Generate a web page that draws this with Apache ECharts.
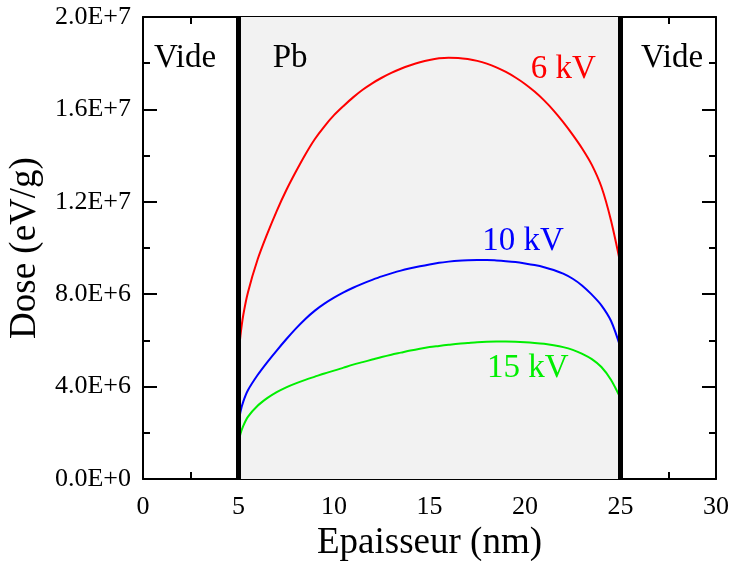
<!DOCTYPE html>
<html>
<head>
<meta charset="utf-8">
<script src="https://cdn.jsdelivr.net/npm/echarts@6/dist/echarts.min.js"></script>
<style>
html,body{margin:0;padding:0;background:#fff;}
#chart{width:734px;height:561px;}
</style>
</head>
<body>
<div id="chart"></div>
<script>
// Data (thickness in nm, dose in eV/g)
const thickness = [5.0,5.1,5.25,5.5,6.0,6.5,7.0,7.5,8.0,8.5,9.0,9.5,10.0,10.5,11.0,11.5,12.0,12.5,13.0,13.5,14.0,14.5,15.0,15.5,16.0,16.5,17.0,17.5,18.0,18.5,19.0,19.5,20.0,20.5,21.0,21.5,22.0,22.5,23.0,23.5,24.0,24.5,25.0];

const dose6kV = [5.3e6,6.2e6,7.1e6,8.1e6,9.5e6,10.6e6,11.6e6,12.5e6,13.3e6,14.05e6,14.72e6,15.27e6,15.75e6,16.15e6,16.52e6,16.85e6,17.13e6,17.37e6,17.58e6,17.76e6,17.91e6,18.04e6,18.14e6,18.21e6,18.24e6,18.23e6,18.18e6,18.1e6,17.98e6,17.82e6,17.62e6,17.38e6,17.1e6,16.77e6,16.39e6,15.95e6,15.45e6,14.9e6,14.3e6,13.6e6,12.65e6,11.2e6,9.3e6];

const dose10kV = [2.3e6,2.9e6,3.35e6,3.85e6,4.5e6,5.05e6,5.56e6,6.05e6,6.51e6,6.93e6,7.29e6,7.59e6,7.85e6,8.08e6,8.28e6,8.46e6,8.62e6,8.77e6,8.9e6,9.02e6,9.12e6,9.21e6,9.29e6,9.36e6,9.41e6,9.45e6,9.47e6,9.48e6,9.48e6,9.46e6,9.43e6,9.39e6,9.33e6,9.26e6,9.17e6,9.05e6,8.89e6,8.67e6,8.37e6,7.98e6,7.52e6,6.85e6,5.7e6];

const dose15kV = [1.45e6,1.95e6,2.3e6,2.7e6,3.17e6,3.5e6,3.76e6,3.97e6,4.14e6,4.29e6,4.43e6,4.57e6,4.69e6,4.82e6,4.95e6,5.06e6,5.17e6,5.28e6,5.38e6,5.47e6,5.56e6,5.64e6,5.71e6,5.76e6,5.81e6,5.86e6,5.89e6,5.92e6,5.94e6,5.95e6,5.95e6,5.94e6,5.92e6,5.89e6,5.85e6,5.79e6,5.71e6,5.59e6,5.42e6,5.19e6,4.85e6,4.3e6,3.5e6];

const pbStart = 5, pbEnd = 25;
const yTickLabels = ['0.0E+0','4.0E+6','8.0E+6','1.2E+7','1.6E+7','2.0E+7'];

const annotTexts = ['Vide','Pb','Vide'];
const annotX = [2.2,7.7,27.7];
const annotY = [1.82e7,1.82e7,1.82e7];
const seriesNames = ['6 kV','10 kV','15 kV'];
const seriesColors = ['#ff0000','#0000ff','#00ee00'];
const labelX = [22.0,19.9,20.15];
const labelY = [1.775e7,1.03e7,4.8e6];

const FONT = '"Liberation Serif","Times New Roman",serif';

function pairs(xs, ys){ return xs.map((x,i)=>[x, ys[i]]); }
function fmtY(v){
  const idx = Math.round(v/4e6);
  return yTickLabels[idx] !== undefined ? yTickLabels[idx] : '';
}

const chart = echarts.init(document.getElementById('chart'), null, {renderer:'canvas'});

const baseAxisX = {
  type:'value', min:0, max:30, interval:5,
  axisLine:{show:true, onZero:false, lineStyle:{color:'#000', width:2}},
  axisTick:{show:true, inside:true, length:14, lineStyle:{color:'#000', width:2}},
  minorTick:{show:true, splitNumber:2, length:7, lineStyle:{color:'#000', width:2}},
  splitLine:{show:false}
};
const baseAxisY = {
  type:'value', min:0, max:2e7, interval:4e6,
  axisLine:{show:true, onZero:false, lineStyle:{color:'#000', width:2}},
  axisTick:{show:true, inside:true, length:14, lineStyle:{color:'#000', width:2}},
  minorTick:{show:true, splitNumber:2, length:7, lineStyle:{color:'#000', width:2}},
  splitLine:{show:false}
};

const curves = [pairs(thickness,dose6kV), pairs(thickness,dose10kV), pairs(thickness,dose15kV)];

const series = curves.map((d,i)=>({
  name: seriesNames[i], type:'line', data:d, showSymbol:false, symbol:'none',
  smooth:0.3, lineStyle:{color:seriesColors[i], width:2}, z:3,
  markPoint:{
    symbol:'circle', symbolSize:0,
    data:[{coord:[labelX[i], labelY[i]], value:seriesNames[i]}],
    label:{show:true, formatter:seriesNames[i], color:seriesColors[i], fontFamily:FONT, fontSize:33, position:'inside'}
  }
}));

series.push({
  type:'line', data:[], silent:true,
  markArea:{
    silent:true,
    itemStyle:{color:'#f2f2f2'},
    data:[[{xAxis:pbStart},{xAxis:pbEnd}]]
  },
  markLine:{
    silent:true, symbol:['none','none'], label:{show:false},
    lineStyle:{color:'#000', width:5, type:'solid'},
    data:[{xAxis:pbStart},{xAxis:pbEnd}]
  },
  markPoint:{
    symbol:'circle', symbolSize:0,
    data: annotTexts.map((t,i)=>({coord:[annotX[i], annotY[i]], value:t, label:{formatter:t}})),
    label:{show:true, color:'#000', fontFamily:FONT, fontSize:33, position:'inside'}
  },
  z:2
});

chart.setOption({
  animation:false,
  backgroundColor:'#fff',
  grid:{left:143, right:18, top:17, bottom:82, containLabel:false, outerBoundsMode:'none'},
  xAxis:[
    Object.assign({}, baseAxisX, {
      position:'bottom',
      name:'Epaisseur (nm)', nameLocation:'middle', nameGap:44,
      nameTextStyle:{fontFamily:FONT, fontSize:37, color:'#000'},
      axisLabel:{show:true, margin:15, fontFamily:FONT, fontSize:26, color:'#000'}
    }),
    Object.assign({}, baseAxisX, {position:'top', axisLabel:{show:false}})
  ],
  yAxis:[
    Object.assign({}, baseAxisY, {
      position:'left',
      name:'Dose (eV/g)', nameLocation:'middle', nameGap:84,
      nameTextStyle:{fontFamily:FONT, fontSize:37, color:'#000'},
      axisLabel:{show:true, margin:12, fontFamily:FONT, fontSize:26, color:'#000', formatter:fmtY}
    }),
    Object.assign({}, baseAxisY, {position:'right', axisLabel:{show:false}})
  ],
  series: series
});
</script>
</body>
</html>
